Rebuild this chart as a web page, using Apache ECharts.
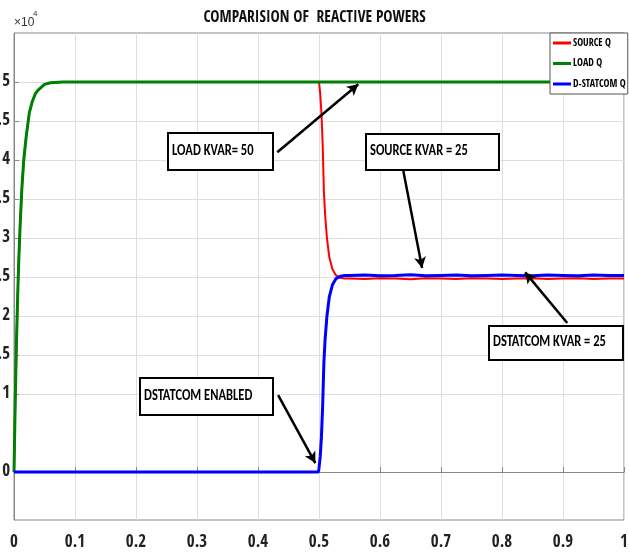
<!DOCTYPE html>
<html>
<head>
<meta charset="utf-8">
<script src="https://cdn.jsdelivr.net/npm/echarts@6/dist/echarts.min.js"></script>
<style>html,body{margin:0;padding:0;background:#fff}#c{width:629px;height:552px}</style>
</head>
<body>
<div id="c"></div>
<script>
// ---- data (values in units of 1e4 VAR) ----
const titleText = 'COMPARISION OF  REACTIVE POWERS';
const seriesNames = ['SOURCE Q', 'LOAD Q', 'D-STATCOM Q'];
const xTicks = [0, 0.1, 0.2, 0.3, 0.4, 0.5, 0.6, 0.7, 0.8, 0.9, 1];
const yTicks = [0, 1, 1.5, 2, 2.5, 3, 3.5, 4, 4.5, 5];

const loadT = [0, 0.002, 0.004, 0.006, 0.008, 0.010, 0.013, 0.016, 0.020, 0.025, 0.030, 0.035, 0.040, 0.050, 0.060, 0.080, 0.2, 0.4, 0.6, 0.8, 1.0];
const loadQ = [0, 0.9, 1.65, 2.25, 2.75, 3.15, 3.65, 4.0, 4.3, 4.6, 4.75, 4.85, 4.9, 4.97, 4.99, 5.0, 5.0, 5.0, 5.0, 5.0, 5.0];

const sourceT = [0, 0.002, 0.004, 0.006, 0.008, 0.010, 0.013, 0.016, 0.020, 0.025, 0.030, 0.035, 0.040, 0.050, 0.060, 0.080, 0.3,
  0.5, 0.502, 0.504, 0.506, 0.508, 0.51, 0.513, 0.517, 0.522, 0.528, 0.535, 0.542,
  0.55, 0.575, 0.6, 0.625, 0.65, 0.675, 0.7, 0.725, 0.75, 0.775, 0.8, 0.825, 0.85, 0.875, 0.9, 0.925, 0.95, 0.975, 1.0];
const sourceQ = [0, 0.9, 1.65, 2.25, 2.75, 3.15, 3.65, 4.0, 4.3, 4.6, 4.75, 4.85, 4.9, 4.97, 4.99, 5.0, 5.0,
  5.0, 4.85, 4.6, 4.2, 3.6, 3.3, 3.0, 2.75, 2.6, 2.52, 2.49, 2.48,
  2.48, 2.475, 2.485, 2.48, 2.47, 2.485, 2.48, 2.475, 2.485, 2.48, 2.475, 2.48, 2.485, 2.475, 2.48, 2.485, 2.475, 2.48, 2.48];

const statcomT = [0, 0.3, 0.499, 0.5, 0.502, 0.504, 0.506, 0.508, 0.51, 0.513, 0.517, 0.522, 0.528, 0.535, 0.542,
  0.55, 0.575, 0.6, 0.625, 0.65, 0.675, 0.7, 0.725, 0.75, 0.775, 0.8, 0.825, 0.85, 0.875, 0.9, 0.925, 0.95, 0.975, 1.0];
const statcomQ = [0, 0, 0, 0.05, 0.2, 0.45, 0.85, 1.4, 1.7, 2.0, 2.25, 2.4, 2.48, 2.51, 2.52,
  2.52, 2.525, 2.515, 2.52, 2.53, 2.515, 2.52, 2.525, 2.515, 2.52, 2.525, 2.52, 2.515, 2.525, 2.52, 2.515, 2.525, 2.52, 2.52];

// annotations: [text, arrow from (x,y), arrow to (x,y)] in data units
const annotations = [
  ['LOAD KVAR= 50', [0.4316, 4.10], [0.5644, 4.97]],
  ['SOURCE KVAR = 25', [0.638, 3.87], [0.669, 2.615]],
  ['DSTATCOM KVAR = 25', [0.907, 1.91], [0.838, 2.56]],
  ['DSTATCOM ENABLED', [0.433, 0.987], [0.494, 0.115]]
];
// ----

const FONT = '"Open Sans Condensed","Roboto Condensed","DejaVu Sans Condensed",sans-serif';
const NOTE_FONT = 'Carlito,"Open Sans Condensed",sans-serif';
const zip = (a, b) => a.map((v, i) => [v, b[i]]);

const chart = echarts.init(document.getElementById('c'), null, {renderer: 'canvas'});

const boxes = [
  {x: 167, y: 132, w: 105, h: 37},
  {x: 365, y: 133, w: 133, h: 36},
  {x: 488, y: 325, w: 134, h: 34},
  {x: 139, y: 377, w: 133, h: 37}
];

const graphics = [
  {type: 'text', left: 14, top: 17, style: {text: '×10', fontSize: 12, fontFamily: 'Liberation Sans, Arial', fill: '#333'}},
  {type: 'text', left: 33, top: 10, style: {text: '4', fontSize: 8, fontFamily: 'Liberation Sans, Arial', fill: '#333'}}
];
annotations.forEach((a, i) => {
  const b = boxes[i];
  graphics.push({type: 'rect', left: b.x, top: b.y, z: 100,
    shape: {x: 0, y: 0, width: b.w, height: b.h}, style: {fill: '#fff', stroke: '#000', lineWidth: 2}});
  graphics.push({type: 'text', x: b.x + 5, y: b.y + b.h / 2, z: 101, scaleY: 1.35, originY: 0,
    style: {text: a[0], fontSize: 12.5, fontWeight: 'bold', fontFamily: NOTE_FONT, fill: '#000', verticalAlign: 'middle'}});
});

const option = {
  animation: false,
  backgroundColor: '#fff',
  title: {
    text: titleText, left: 'center', top: 5,
    textStyle: {fontSize: 15.5, fontWeight: 'bold', fontFamily: FONT, color: '#111'}
  },
  legend: {
    orient: 'vertical', left: 550, top: 33,
    data: seriesNames,
    icon: 'rect', itemWidth: 18, itemHeight: 3, itemGap: 8.5,
    padding: [4, 2, 4, 3],
    backgroundColor: '#fff', borderColor: '#555', borderWidth: 1,
    textStyle: {fontSize: 10, fontWeight: 'bold', fontFamily: FONT, color: '#000', lineHeight: 12, padding: [0, 0, 0, -3]},
    z: 50
  },
  grid: {left: 14, right: 5, top: 33, bottom: 32, outerBoundsMode: 'none', containLabel: false,
    show: true, borderColor: '#888', borderWidth: 1, backgroundColor: '#fff'},
  xAxis: {
    type: 'value', min: 0, max: 1, interval: 0.1,
    axisLine: {show: true, lineStyle: {color: '#888'}},
    axisTick: {show: true, inside: true, length: 5, lineStyle: {color: '#888'}},
    splitLine: {show: true, lineStyle: {color: '#dedede', width: 1}},
    axisLabel: {margin: 14, fontSize: 17, fontWeight: 'bold', fontFamily: FONT, color: '#222',
      formatter: v => String(Math.round(v * 10) / 10)}
  },
  yAxis: {
    type: 'value', min: -0.615, max: 5.628,
    axisLine: {show: true, lineStyle: {color: '#888'}},
    axisTick: {show: true, inside: true, length: 5, lineStyle: {color: '#888'}, customValues: yTicks},
    splitLine: {show: true, lineStyle: {color: '#dedede', width: 1}},
    axisLabel: {margin: 4, fontSize: 17, fontWeight: 'bold', fontFamily: FONT, color: '#222', customValues: yTicks,
      formatter: v => String(v)}
  },
  series: [
    {name: seriesNames[0], type: 'line', data: zip(sourceT, sourceQ), showSymbol: false, color: '#ff0000',
      lineStyle: {width: 2, color: '#ff0000'}, z: 2},
    {name: seriesNames[1], type: 'line', data: zip(loadT, loadQ), showSymbol: false, color: '#008000',
      lineStyle: {width: 3, color: '#008000'}, z: 3},
    {name: seriesNames[2], type: 'line', data: zip(statcomT, statcomQ), showSymbol: false, color: '#0000ff',
      lineStyle: {width: 3, color: '#0000ff'}, z: 4,
      markLine: {
        silent: true, symbol: ['none', 'arrow'], symbolSize: [9, 11], z: 10,
        label: {show: false},
        lineStyle: {color: '#000', width: 2.5, type: 'solid'},
        data: annotations.map(a => [{coord: a[1]}, {coord: a[2]}])
      }}
  ],
  graphic: graphics
};
chart.setOption(option);
</script>
</body>
</html>
